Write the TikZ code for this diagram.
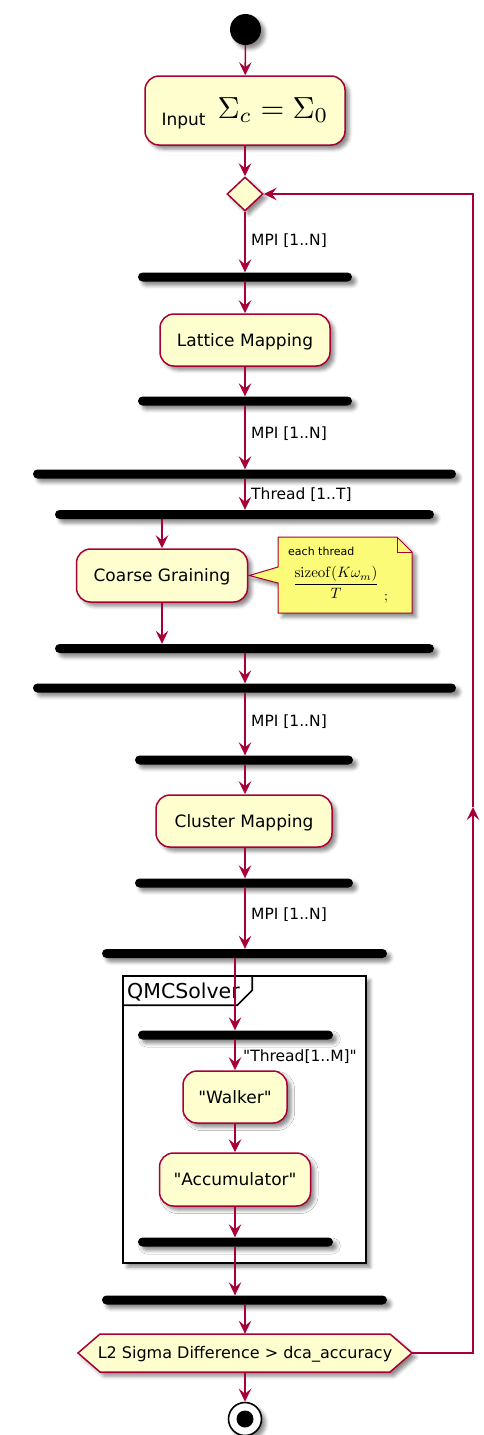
\documentclass[tikz,border=0pt]{standalone}
\usepackage[no-math]{fontspec}
\setmainfont{DejaVu Sans}
\usepackage{graphicx}
\usetikzlibrary{arrows.meta,shapes.geometric,shadows.blur,calc}
\definecolor{pumlred}{HTML}{A80036}
\definecolor{pumlbg}{HTML}{FEFECE}
\definecolor{notebg}{HTML}{FBFB77}
\newcommand{\q}{\textquotedbl}
\begin{document}
\begin{tikzpicture}[x=1pt,y=-1pt,
 shad/.style={blur shadow={shadow xshift=4pt,shadow yshift=-4pt,shadow blur radius=3.5pt,shadow opacity=45}},
 act/.style={draw=pumlred,fill=pumlbg,line width=1.5pt,rounded corners=14pt,shad,inner sep=0pt,minimum height=52pt,font=\fontsize{17}{20}\selectfont,text height=12.4pt,text depth=0pt},
 bar/.style={fill=black,rounded corners=4.5pt,minimum height=9pt,inner sep=0pt,shad},
 lbl/.style={anchor=west,inner sep=0pt,font=\fontsize{15.5}{18}\selectfont,text height=11.3pt,text depth=0pt},
 arr/.style={draw=pumlred,line width=1.6pt,-{Stealth[length=13pt,width=12.5pt,inset=5pt]}},
]
\useasboundingbox (0,0) rectangle (484,1435);
% frame
\node[draw=black,line width=1.6pt,fill=white,shad,minimum width=243pt,minimum height=287pt,inner sep=0pt] (qmc) at (244.5,1119.5) {};
\draw[black,line width=1.6pt] ($(qmc.north west)+(0,30)$) -- ++(115,0) -- ++(15,-15) -- ($(qmc.north west)+(130,0)$);
\node[anchor=west,inner sep=0pt,font=\fontsize{20.5}{24}\selectfont,text height=15pt,text depth=0pt] (qmclabel) at (127,991) {QMCSolver};
% start
\node[circle,fill=black,minimum size=31pt,inner sep=0pt,shad] (start) at (245.5,29.5) {};
\node[act,minimum width=200pt,minimum height=69pt,text height=15pt] (input) at (245,110.5) {\raisebox{-7pt}{Input}\hspace{12pt}{\fontsize{10}{12}\selectfont\scalebox{3.05}{$\Sigma_c=\Sigma_0$}}};
\node[diamond,draw=pumlred,fill=pumlbg,line width=1.5pt,minimum width=36pt,minimum height=34pt,inner sep=0pt,shad] (dia) at (245,194) {};
\node[bar,minimum width=214pt] (b1) at (245,277) {};
\node[act,minimum width=170pt] (lattice) at (245,340) {Lattice Mapping};
\node[bar,minimum width=214pt] (b2) at (245,401) {};
\node[bar,minimum width=423pt] (b3) at (244.5,474) {};
\node[bar,minimum width=379pt] (b4) at (244.5,514.5) {};
\node[act,minimum width=171pt,minimum height=53pt] (coarse) at (162,575.5) {Coarse Graining};
% note
\coordinate (noteNW) at (278,537);
\path[draw=pumlred,fill=notebg,line width=1pt,shad] (noteNW) -- ++(119,0) -- ++(15,15) -- ++(0,61) -- ++(-134,0) -- ++(0,-30) -- ($(coarse.east)+(1,0)$) -- ($(noteNW)+(0,30)$) -- cycle;
\draw[pumlred,line width=1pt] ($(noteNW)+(119,0)$) -- ++(0,15) -- ++(15,0);
\node[anchor=west,inner sep=0pt,font=\fontsize{11}{13}\selectfont,text height=8pt,text depth=0pt] (note1) at (288,551) {each thread};
\node[anchor=base,inner sep=0pt] (note2) at (336,588) {\scalebox{1.5}{$\displaystyle\frac{\mathrm{sizeof}(K\omega_m)}{T}$}};
\node[anchor=base,inner sep=0pt] (note3) at (386,600) {\scalebox{1.4}{$;$}};
\node[bar,minimum width=379pt] (b5) at (244.5,648.5) {};
\node[bar,minimum width=423pt] (b6) at (244.5,688) {};
\node[bar,minimum width=218pt] (b7) at (244,760) {};
\node[act,minimum width=176pt] (cluster) at (244,821) {Cluster Mapping};
\node[bar,minimum width=218pt] (b8) at (244,883) {};
\node[bar,minimum width=285pt] (b9) at (244.5,953.5) {};
\node[bar,minimum width=195pt] (b10) at (235.5,1035) {};
\node[act,minimum width=104pt] (walker) at (235,1097) {\q Walker\q};
\node[act,minimum width=151pt,minimum height=53pt] (acc) at (235,1179.5) {\q Accumulator\q};
\node[bar,minimum width=195pt] (b11) at (235.5,1242) {};
\node[bar,minimum width=285pt] (b12) at (244.5,1300) {};
% hexagon
\coordinate (hexc) at (245,1353);
\path[draw=pumlred,fill=pumlbg,line width=1.5pt,shad] ($(hexc)+(-167,0)$) -- ($(hexc)+(-145,-19)$) -- ($(hexc)+(145,-19)$) -- ($(hexc)+(167,0)$) -- ($(hexc)+(145,19)$) -- ($(hexc)+(-145,19)$) -- cycle;
\node[inner sep=0pt,minimum width=334pt,minimum height=38pt,font=\fontsize{16}{19}\selectfont,text height=11.7pt,text depth=0pt] (hex) at (hexc) {L2 Sigma Difference > dca\_accuracy};
% end
\node[circle,draw=black,line width=1.6pt,fill=white,minimum size=33pt,inner sep=0pt,shad] (end) at (245,1419) {};
\node[circle,fill=black,minimum size=17pt,inner sep=0pt] (endin) at (end) {};
% arrows
\draw[arr] (start) -- (input);
\draw[arr] (input) -- (dia);
\draw[arr] (dia.south) -- (b1.north);
\node[lbl] (l1) at (251,239.5) {MPI [1..N]};
\draw[arr] (b1.south) -- (lattice.north);
\draw[arr] (lattice.south) -- (b2.north);
\draw[arr] (b2.south) -- (b2.south |- b3.north);
\node[lbl] (l2) at (251,432.5) {MPI [1..N]};
\draw[arr] (b2.south |- b3.south) -- (b2.south |- b4.north);
\node[lbl] (l3) at (251,494) {Thread [1..T]};
\draw[arr] (coarse.north |- b4.south) -- (coarse.north);
\draw[arr] (coarse.south) -- (coarse.south |- b5.north);
\draw[arr] (b2.south |- b5.south) -- (b2.south |- b6.north);
\draw[arr] (b2.south |- b6.south) -- (b2.south |- b7.north);
\node[lbl] (l4) at (251,720.5) {MPI [1..N]};
\draw[arr] (b2.south |- b7.south) -- (b2.south |- cluster.north);
\draw[arr] (b2.south |- cluster.south) -- (b2.south |- b8.north);
\draw[arr] (b2.south |- b8.south) -- (b2.south |- b9.north);
\node[lbl] (l5) at (251,914) {MPI [1..N]};
\draw[arr] (walker.north |- b9.south) -- (walker.north |- b10.north);
\draw[arr] (walker.north |- b10.south) -- (walker.north);
\node[lbl] (l6) at (243,1056) {\q Thread[1..M]\q};
\draw[arr] (walker.south) -- (acc.north);
\draw[arr] (acc.south) -- (acc.south |- b11.north);
\draw[arr] (acc.south |- b11.south) -- (acc.south |- b12.north);
\draw[arr] (b2.south |- b12.south) -- (hex.north);
\draw[arr] (hex.south) -- (end.north);
\coordinate (loopup) at (473,807);
\draw[arr] (hex.east) -| (loopup);
\draw[arr] (loopup) |- (dia.east);
\end{tikzpicture}
\end{document}
